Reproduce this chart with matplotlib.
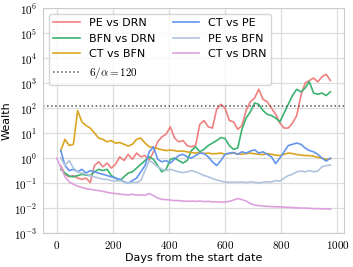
import numpy as np
import matplotlib
matplotlib.use("Agg")
import matplotlib.pyplot as plt
from matplotlib.ticker import FuncFormatter, FixedLocator

plt.rcParams['font.family'] = ['DejaVu Sans']
plt.rcParams['mathtext.fontset'] = 'cm'

days = list(range(0, 976, 15))

pe_drn = [None, -0.3, -0.65, -0.75, -0.7, -0.8, -0.85, -0.8, -0.98, -0.3,
          -0.15, -0.35, -0.2, -0.4, -0.25, 0.05, -0.1, 0.15, -0.05, 0.2,
          0.05, 0.1, -0.1, 0.25, 0.65, 0.85, 0.95, 1.25, 0.8, 0.65,
          0.7, 0.5, 0.45, 0.5, 1.35, 1.5, 1.25, 1.2, 1.95, 2.15,
          2.0, 1.5, 1.45, 1.15, 1.3, 1.9, 2.25, 2.4, 2.75, 2.35,
          2.25, 2.0, 1.75, 1.4, 1.2, 1.2, 1.4, 1.7, 2.5, 3.0,
          3.1, 3.2, 3.05, 3.25, 3.35, 3.1]
bfn_drn = [None, -0.45, -0.6, -0.72, -0.75, -0.7, -0.65, -0.68, -0.7, -0.55,
           -0.45, -0.5, -0.45, -0.7, -0.8, -0.9, -0.75, -0.6, -0.55, -0.4,
           -0.25, -0.1, 0.05, -0.05, -0.3, -0.55, -0.45, -0.05, 0.0, -0.1,
           -0.2, -0.1, 0.3, 0.45, 0.25, 0.35, 0.5, 0.6, 0.7, 0.82,
           0.78, 0.5, 0.35, 0.4, 1.15, 1.6, 1.85, 2.2, 2.15, 1.9,
           1.75, 1.7, 1.6, 1.45, 1.8, 2.15, 2.5, 2.75, 2.65, 2.8,
           3.05, 2.6, 2.55, 2.6, 2.5, 2.65]
ct_bfn = [None, 0.3, 0.75, 0.5, 0.55, 1.9, 1.45, 1.3, 1.2, 1.0,
          0.8, 0.75, 0.65, 0.7, 0.6, 0.62, 0.55, 0.48, 0.55, 0.75,
          0.8, 0.6, 0.45, 0.42, 0.38, 0.33, 0.3, 0.32, 0.3, 0.27,
          0.28, 0.25, 0.22, 0.2, 0.22, 0.18, 0.2, 0.17, 0.18, 0.2,
          0.15, 0.18, 0.2, 0.16, 0.15, 0.18, 0.2, 0.17, 0.15, 0.14,
          0.18, 0.15, 0.12, 0.1, 0.15, 0.2, 0.18, 0.14, 0.12, 0.1,
          0.1, 0.07, 0.03, 0.0, -0.05, -0.03]
ct_pe = [None, 0.3, -0.3, -0.5, -0.45, -0.55, -0.45, -0.6, -0.5, -0.55,
         -0.6, -0.65, -0.7, -0.75, -0.8, -0.85, -0.95, -1.0, -0.9, -0.8,
         -0.55, -0.3, 0.25, 0.45, -0.05, -0.15, -0.1, -0.2, -0.05, 0.1,
         0.15, 0.05, 0.0, 0.1, 0.2, 0.18, 0.05, -0.15, -0.3, -0.1,
         0.15, 0.2, 0.22, 0.15, 0.25, 0.2, 0.28, 0.33, 0.2, 0.25,
         0.15, 0.05, -0.22, 0.0, 0.25, 0.5, 0.55, 0.6, 0.55, 0.4,
         0.3, 0.25, 0.15, 0.0, -0.12, 0.0]
pe_bfn = [None, 0.0, -0.3, -0.1, -0.4, -0.55, -0.6, -0.65, -0.7, -0.75,
          -0.8, -0.85, -0.85, -0.9, -0.92, -0.9, -0.95, -1.0, -0.97, -0.98,
          -0.9, -0.5, -0.1, -0.2, -0.35, -0.45, -0.5, -0.45, -0.5, -0.55,
          -0.58, -0.55, -0.5, -0.55, -0.62, -0.7, -0.75, -0.82, -0.88, -0.92,
          -0.96, -0.97, -0.96, -0.97, -0.96, -0.98, -0.95, -0.97, -0.99, -0.97,
          -0.95, -0.96, -0.9, -0.92, -0.8, -0.7, -0.65, -0.55, -0.52, -0.55,
          -0.5, -0.55, -0.52, -0.35, -0.3, -0.28]
ct_drn = [0.0, -0.35, -0.75, -0.95, -1.05, -1.12, -1.18, -1.22, -1.25, -1.28,
          -1.30, -1.33, -1.37, -1.40, -1.42, -1.44, -1.46, -1.47, -1.45, -1.48,
          -1.47, -1.49, -1.42, -1.50, -1.60, -1.65, -1.66, -1.68, -1.70, -1.70,
          -1.72, -1.73, -1.72, -1.73, -1.72, -1.74, -1.73, -1.75, -1.75, -1.76,
          -1.76, -1.73, -1.68, -1.62, -1.66, -1.72, -1.82, -1.88, -1.90, -1.92,
          -1.93, -1.94, -1.95, -1.95, -1.96, -1.97, -1.98, -1.99, -2.00, -2.00,
          -2.01, -2.02, -2.02, -2.03, -2.03, -2.04]

threshold = 120

series = [
    ("PE vs DRN", pe_drn, "#f08080"),
    ("BFN vs DRN", bfn_drn, "#3cb371"),
    ("CT vs BFN", ct_bfn, "#daa520"),
    ("CT vs PE", ct_pe, "#6495ed"),
    ("PE vs BFN", pe_bfn, "#b0c4de"),
    ("CT vs DRN", ct_drn, "#dda0dd"),
]

fig, ax = plt.subplots(figsize=(3.53, 2.67), dpi=100)
fig.subplots_adjust(left=0.122, right=0.975, top=0.97, bottom=0.127)

lines = {}
for name, vals, col in series:
    w = 10 ** np.array(vals, dtype=float)
    lines[name], = ax.plot(days, w, color=col, lw=1.2, label=name)

thr, = ax.plot([], [])
thr = ax.axhline(threshold, color='#555555', ls=':', lw=1.1, label=r'$6/\alpha = 120$')

ax.set_yscale('log')
ax.set_ylim(1e-3, 1e6)
ax.yaxis.set_major_locator(FixedLocator([10.0 ** k for k in range(-3, 7)]))
ax.yaxis.set_minor_locator(FixedLocator([]))
ax.yaxis.set_major_formatter(FuncFormatter(lambda v, p: r'$10^{%d}$' % round(np.log10(v))))
ax.xaxis.set_major_locator(FixedLocator([0, 200, 400, 600, 800, 1000]))
ax.xaxis.set_major_formatter(FuncFormatter(lambda v, p: r'$%d$' % v))
ax.set_xlim(-48, 1024)

ax.grid(True, color='#dddddd', lw=0.9)
ax.set_axisbelow(True)
for s in ax.spines.values():
    s.set_color('#cccccc')
ax.tick_params(length=0, labelsize=8, pad=4)

ax.set_xlabel('Days from the start date', fontsize=8, labelpad=2)
ax.set_ylabel('Wealth', fontsize=8, labelpad=2)

handles = [lines["PE vs DRN"], lines["BFN vs DRN"], lines["CT vs BFN"], thr,
           lines["CT vs PE"], lines["PE vs BFN"], lines["CT vs DRN"]]
ax.legend(handles=handles, loc='upper left', ncol=2, fontsize=8,
          handlelength=2.4, handletextpad=0.8, columnspacing=1.6,
          edgecolor='#cccccc', framealpha=0.8)

fig.savefig('out.png', dpi=100)
